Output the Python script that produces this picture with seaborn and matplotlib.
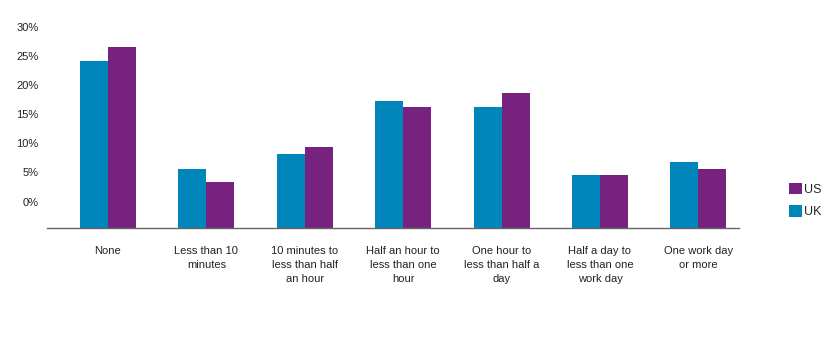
import matplotlib
matplotlib.use("Agg")
import matplotlib.pyplot as plt
import seaborn as sns
import pandas as pd

# time spent categories
categories = ["None", "Less than 10\nminutes", "10 minutes to\nless than half\nan hour",
              "Half an hour to\nless than one\nhour", "One hour to\nless than half a\nday",
              "Half a day to\nless than one\nwork day", "One work day\nor more"]
uk_values = [24.2, 5.6, 8.1, 17.3, 16.2, 4.6, 6.8]
us_values = [26.6, 3.3, 9.3, 16.2, 18.6, 4.6, 5.6]
tick_values = [0, 5, 10, 15, 20, 25, 30]

# the original chart's bars start a bit below its 0% label
base = 4.6

df = pd.DataFrame({
    "category": categories * 2,
    "country": ["UK"] * len(categories) + ["US"] * len(categories),
    "value": uk_values + us_values,
})
df["height"] = df["value"] + base

sns.set_style("white")
plt.rcParams["font.family"] = ["Liberation Sans", "DejaVu Sans"]

fig = plt.figure(figsize=(8.3, 3.51), dpi=100)
ax = fig.add_axes([0.0566, 0.3496, 0.8334, 0.5963])

palette = {"UK": "#0086bb", "US": "#77227f"}
sns.barplot(data=df, x="category", y="height", hue="country", palette=palette,
            width=0.57, gap=0, saturation=1, linewidth=0, ax=ax, legend=True)

ax.set_xlim(-0.62, 6.41)
ax.set_ylim(0, 36)
ax.set_yticks([t + base for t in tick_values])
ax.set_yticklabels([f"{t}%" for t in tick_values])
ax.set_xlabel("")
ax.set_ylabel("")
ax.tick_params(axis="y", length=0, pad=6, labelsize=8, colors="#222222")
ax.tick_params(axis="x", length=0, pad=13, labelsize=8, colors="#222222")
for lab in ax.get_xticklabels():
    lab.set_linespacing(1.45)

for side in ["top", "right", "left"]:
    ax.spines[side].set_visible(False)
ax.spines["bottom"].set_color("#666666")
ax.spines["bottom"].set_linewidth(1)

handles, labels = ax.get_legend_handles_labels()
ax.legend(handles[::-1], labels[::-1], loc="center left", bbox_to_anchor=(0.945, 0.428),
          bbox_transform=fig.transFigure, frameon=False, fontsize=9,
          handlelength=1.0, handleheight=1.0, handletextpad=0.2, labelspacing=0.75,
          borderaxespad=0)

fig.savefig("out.png", dpi=100)
